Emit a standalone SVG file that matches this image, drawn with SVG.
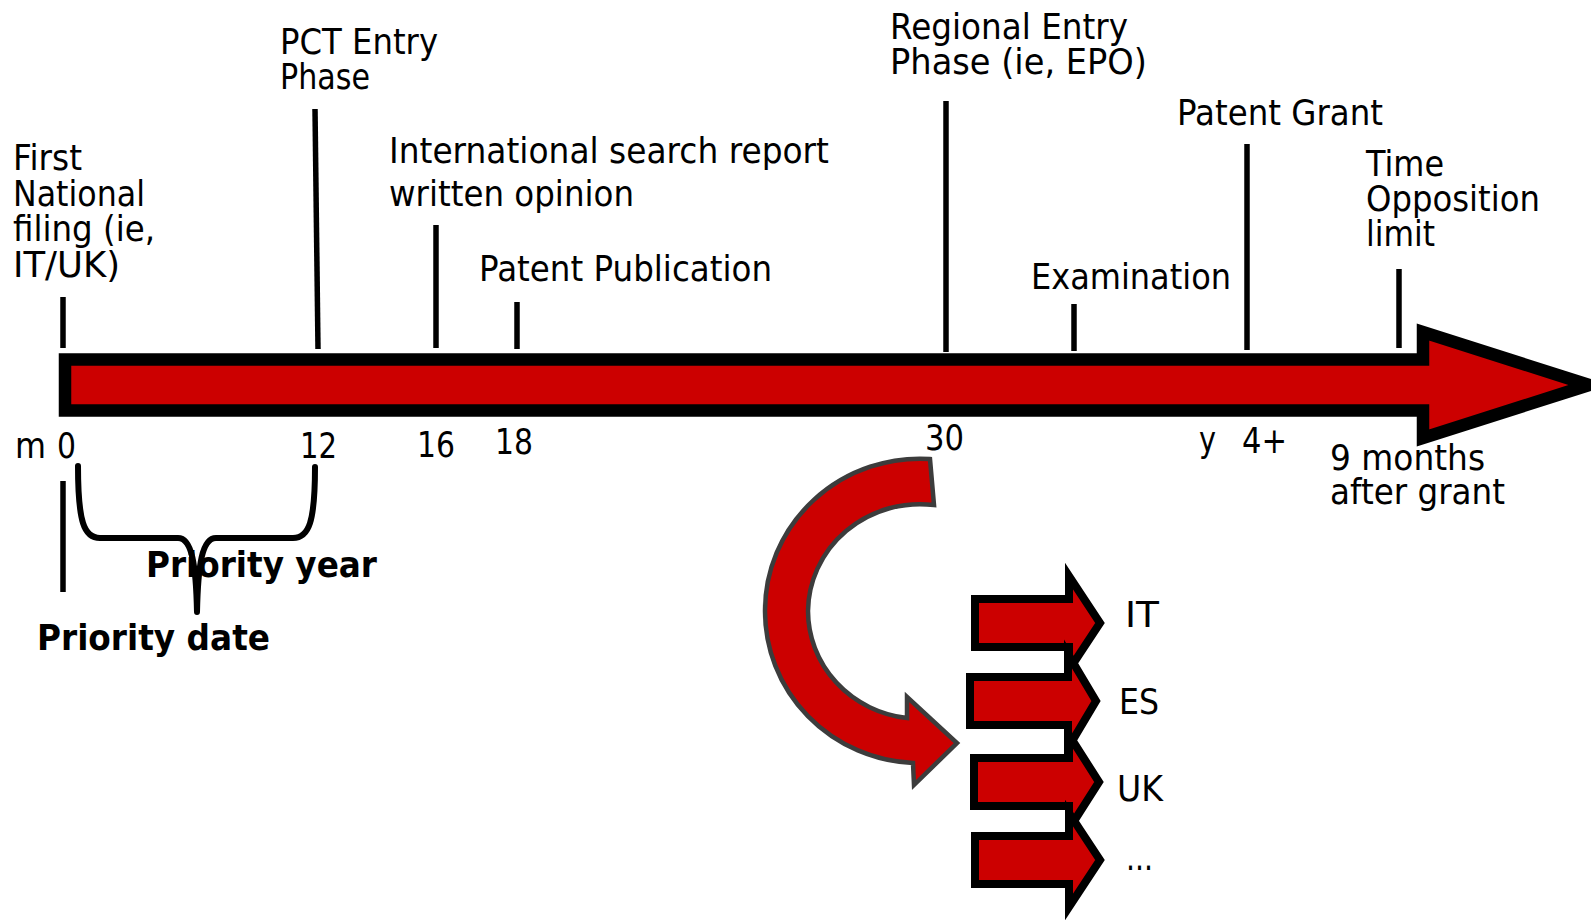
<svg xmlns="http://www.w3.org/2000/svg" width="1591" height="920" viewBox="0 0 1591 920">
<style>
  text { font-family: "DejaVu Sans", "Liberation Sans", sans-serif; font-size: 36px; fill: #000; }
  .b { font-weight: bold; }
  .tick { stroke: #000; stroke-width: 5.5; fill: none; }
  .brace { stroke: #000; stroke-width: 6; fill: none; stroke-linecap: round; stroke-linejoin: round; }
  .big { fill: #cc0000; stroke: #000; stroke-width: 12.5; stroke-linejoin: miter; stroke-miterlimit: 6; }
  .small { fill: #cc0000; stroke: #000; stroke-width: 8; stroke-linejoin: miter; stroke-miterlimit: 6; }
  .curve { fill: #cc0000; stroke: #3c3c3c; stroke-width: 4.5; stroke-linejoin: miter; }
</style>

<g id="timeline">
  <path class="big" d="M 65 359.5 H 1423 V 332 L 1589 385 L 1423 438 V 410.5 H 65 Z"/>
</g>

<g id="connectors">
  <line class="tick" x1="63" y1="297" x2="63" y2="348"/>
  <line class="tick" x1="315" y1="109" x2="318" y2="349"/>
  <line class="tick" x1="436" y1="225" x2="436" y2="348"/>
  <line class="tick" x1="517" y1="302" x2="517" y2="349"/>
  <line class="tick" x1="946" y1="101" x2="946" y2="352"/>
  <line class="tick" x1="1074" y1="304" x2="1074" y2="351"/>
  <line class="tick" x1="1247" y1="144" x2="1247" y2="350"/>
  <line class="tick" x1="1399" y1="269" x2="1399" y2="348"/>
  <line class="tick" x1="63" y1="481" x2="63" y2="592"/>
  <path class="brace" d="M 78 466 C 78 522, 84 538, 100 538 L 178 538 C 192 538, 196 565, 197 612 C 198 565, 202 538, 216 538 L 293 538 C 309 538, 315 522, 315 467"/>
  <path class="curve" d="M 930 459 A 155 152 0 0 0 765 611 A 155 152 0 0 0 913 763 L 914 785 L 957 743 L 907 697 L 907 718 A 112 108 0 0 1 808 611 A 112 108 0 0 1 934 505 Z"/>
</g>

<g id="node-first-filing">
  <text x="13" y="170" textLength="69" lengthAdjust="spacingAndGlyphs">First</text>
  <text x="13" y="206" textLength="132" lengthAdjust="spacingAndGlyphs">National</text>
  <text x="13" y="241" textLength="142" lengthAdjust="spacingAndGlyphs">filing (ie,</text>
  <text x="13" y="277" textLength="107" lengthAdjust="spacingAndGlyphs">IT/UK)</text>
</g>

<g id="node-pct">
  <text x="280" y="54" textLength="158" lengthAdjust="spacingAndGlyphs">PCT Entry</text>
  <text x="280" y="89" textLength="90" lengthAdjust="spacingAndGlyphs">Phase</text>
</g>

<g id="node-isr">
  <text x="389" y="163" textLength="440" lengthAdjust="spacingAndGlyphs">International search report</text>
  <text x="389" y="206" textLength="245" lengthAdjust="spacingAndGlyphs">written opinion</text>
</g>

<g id="node-publication">
  <text x="479" y="281" textLength="293" lengthAdjust="spacingAndGlyphs">Patent Publication</text>
</g>

<g id="node-regional">
  <text x="890" y="39" textLength="238" lengthAdjust="spacingAndGlyphs">Regional Entry</text>
  <text x="890" y="74" textLength="257" lengthAdjust="spacingAndGlyphs">Phase (ie, EPO)</text>
</g>

<g id="node-examination">
  <text x="1031" y="289" textLength="200" lengthAdjust="spacingAndGlyphs">Examination</text>
</g>

<g id="node-grant">
  <text x="1177" y="125" textLength="206" lengthAdjust="spacingAndGlyphs">Patent Grant</text>
</g>

<g id="node-opposition">
  <text x="1366" y="176" textLength="78" lengthAdjust="spacingAndGlyphs">Time</text>
  <text x="1366" y="211" textLength="174" lengthAdjust="spacingAndGlyphs">Opposition</text>
  <text x="1366" y="246" textLength="69" lengthAdjust="spacingAndGlyphs">limit</text>
</g>

<g id="axis-labels">
  <text x="15" y="458" textLength="31" lengthAdjust="spacingAndGlyphs">m</text>
  <text x="57" y="458" textLength="19" lengthAdjust="spacingAndGlyphs">0</text>
  <text x="300" y="458" textLength="37" lengthAdjust="spacingAndGlyphs">12</text>
  <text x="417" y="457" textLength="38" lengthAdjust="spacingAndGlyphs">16</text>
  <text x="495" y="454" textLength="38" lengthAdjust="spacingAndGlyphs">18</text>
  <text x="925" y="450" textLength="39" lengthAdjust="spacingAndGlyphs">30</text>
  <text x="1199" y="452" textLength="17" lengthAdjust="spacingAndGlyphs">y</text>
  <text x="1242" y="453" textLength="45" lengthAdjust="spacingAndGlyphs">4+</text>
  <text x="1330" y="470" textLength="155" lengthAdjust="spacingAndGlyphs">9 months</text>
  <text x="1330" y="504" textLength="175" lengthAdjust="spacingAndGlyphs">after grant</text>
</g>

<g id="node-priority-year">
  <text class="b" x="146" y="577" textLength="231" lengthAdjust="spacingAndGlyphs">Priority year</text>
</g>

<g id="node-priority-date">
  <text class="b" x="37" y="650" textLength="233" lengthAdjust="spacingAndGlyphs">Priority date</text>
</g>

<g id="node-it">
  <path class="small" d="M 975 599 H 1069 V 576 L 1100 623 L 1069 670 V 647 H 975 Z"/>
  <text x="1125" y="627" textLength="34" lengthAdjust="spacingAndGlyphs">IT</text>
</g>
<g id="node-es">
  <path class="small" d="M 970 677 H 1068 V 654 L 1096 701 L 1068 748 V 725 H 970 Z"/>
  <text x="1119" y="714" textLength="40" lengthAdjust="spacingAndGlyphs">ES</text>
</g>
<g id="node-uk">
  <path class="small" d="M 974 758 H 1069 V 735 L 1099 782 L 1069 829 V 806 H 974 Z"/>
  <text x="1117" y="801" textLength="46" lengthAdjust="spacingAndGlyphs">UK</text>
</g>
<g id="node-more">
  <path class="small" d="M 975 836 H 1069 V 813 L 1100 860 L 1069 907 V 884 H 975 Z"/>
  <text x="1126" y="870" textLength="27" lengthAdjust="spacingAndGlyphs">...</text>
</g>
</svg>
